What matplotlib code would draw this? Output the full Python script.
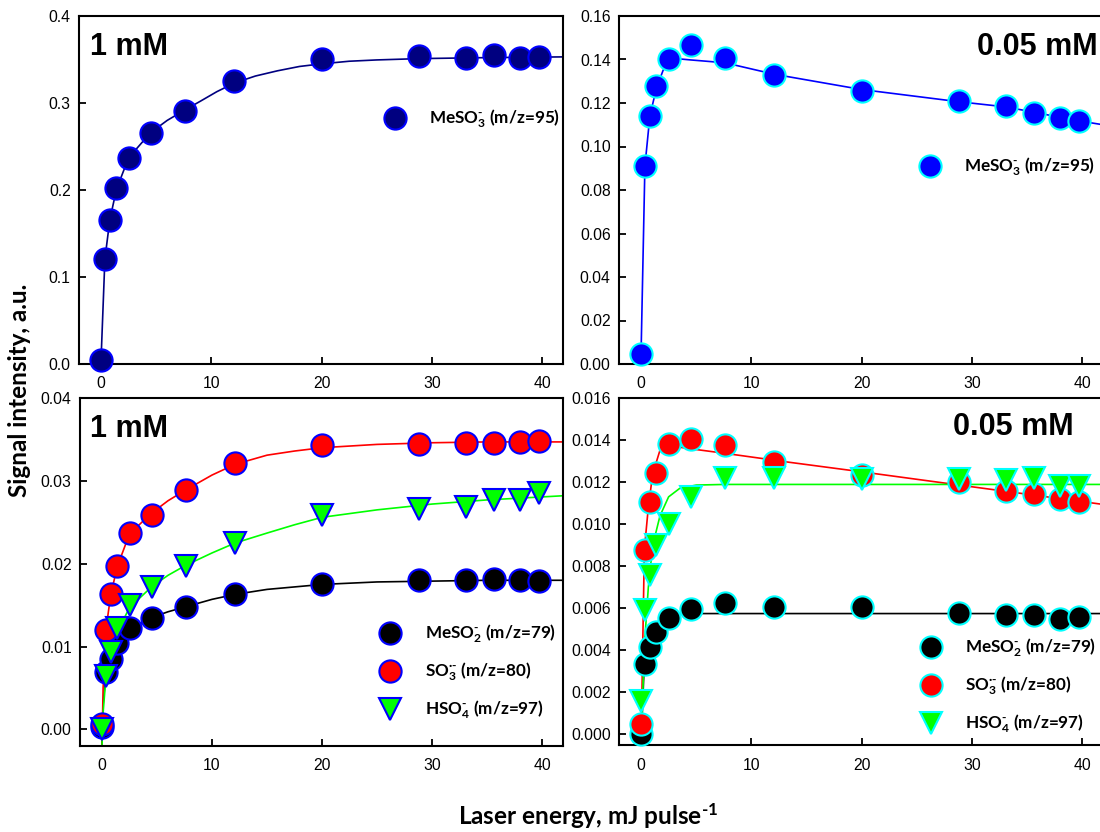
import numpy as np
import matplotlib.pyplot as plt

plt.rcParams['font.family'] = ['Liberation Sans', 'DejaVu Sans']
plt.rcParams['mathtext.default'] = 'regular'
plt.rcParams['mathtext.fontset'] = 'custom'
plt.rcParams['mathtext.rm'] = 'Lato:bold'
plt.rcParams['mathtext.bf'] = 'Lato:bold'
plt.rcParams['mathtext.it'] = 'Lato:bold:italic'

# energia del laser (mJ/pulso), comun a todas las series
energia = [0, 0.35, 0.8, 1.4, 2.5, 4.5, 7.6, 12.1, 20, 28.8, 33.1, 35.6, 38.0, 39.7]

# --- 1 mM ---
meso3_1mM = [0.005, 0.121, 0.166, 0.202, 0.237, 0.265, 0.291, 0.325, 0.351, 0.354, 0.352, 0.355, 0.352, 0.353]
meso2_1mM = [0.0003, 0.0069, 0.0085, 0.0104, 0.0122, 0.0135, 0.0148, 0.0163, 0.0175, 0.0180, 0.0180, 0.0182, 0.0180, 0.0179]
so3_1mM = [0.0007, 0.0120, 0.0163, 0.0197, 0.0237, 0.0259, 0.0289, 0.0321, 0.0343, 0.0345, 0.0346, 0.0346, 0.0347, 0.0348]
hso4_1mM = [0.0, 0.0064, 0.0093, 0.0122, 0.0150, 0.0172, 0.0197, 0.0225, 0.0259, 0.0266, 0.0268, 0.0277, 0.0277, 0.0285]

# --- 0.05 mM ---
meso3_005 = [0.0045, 0.091, 0.114, 0.128, 0.140, 0.1465, 0.1406, 0.1329, 0.1255, 0.1208, 0.1185, 0.1152, 0.1129, 0.1115]
meso2_005 = [0.00003, 0.00337, 0.00418, 0.00485, 0.00555, 0.00596, 0.00624, 0.00607, 0.00605, 0.00578, 0.0057, 0.0057, 0.0055, 0.00558]
so3_005 = [0.00048, 0.00877, 0.01107, 0.01244, 0.01381, 0.01407, 0.01376, 0.01298, 0.01232, 0.01199, 0.0116, 0.01144, 0.01122, 0.01106]
hso4_005 = [0.00158, 0.00594, 0.00756, 0.00902, 0.01002, 0.0113, 0.01218, 0.01218, 0.01217, 0.01217, 0.01209, 0.0122, 0.01183, 0.01183]

# curvas de ajuste
ajuste_tl_x = [0, 0.35, 0.8, 1.4, 2.5, 4.5, 6, 7.6, 9, 10.5, 12.1, 14, 16, 18, 20, 22.5, 25, 28.8, 34, 41.9]
ajuste_tl_y = [0.005, 0.121, 0.166, 0.201, 0.237, 0.266, 0.280, 0.292, 0.302, 0.313, 0.323, 0.331, 0.337, 0.342, 0.345, 0.348, 0.3495, 0.351, 0.352, 0.353]

ajuste_tr_x = [0, 0.35, 0.8, 1.4, 2.0, 2.5, 3.0, 4.5, 7.6, 12.1, 20, 28.8, 33.1, 39.7, 41.9]
ajuste_tr_y = [0.0045, 0.091, 0.114, 0.127, 0.135, 0.139, 0.1405, 0.1398, 0.1385, 0.1332, 0.1262, 0.1206, 0.1182, 0.1118, 0.1100]

ajuste_bl_x = [0, 0.1, 0.35, 0.8, 1.4, 2.5, 4.5, 6, 7.6, 10, 12.1, 15, 17.5, 20, 25, 30, 35, 41.9]
ajuste_bl_meso2 = [-0.002, 0.003, 0.0068, 0.0088, 0.0104, 0.0121, 0.0135, 0.0142, 0.0148, 0.0157, 0.0163, 0.0169, 0.0172, 0.0175, 0.0178, 0.0179, 0.0180, 0.0180]
ajuste_bl_so3 = [-0.002, 0.005, 0.0120, 0.0163, 0.0197, 0.0236, 0.0261, 0.0276, 0.0289, 0.0307, 0.0320, 0.0331, 0.0336, 0.0340, 0.0344, 0.0346, 0.0347, 0.0347]
ajuste_bl_hso4 = [-0.002, 0.002, 0.0062, 0.0092, 0.0118, 0.0147, 0.0172, 0.0186, 0.0198, 0.0213, 0.0225, 0.0237, 0.0247, 0.0256, 0.0265, 0.0272, 0.0277, 0.0282]

ajuste_br_x = [0, 0.3, 0.66, 1.06, 1.72, 2.5, 3.5, 5, 7.6, 13.5, 20, 30, 41.9]
ajuste_br_meso2 = [-0.0005, 0.0035, 0.0043, 0.0048, 0.0053, 0.0056, 0.00572, 0.00575, 0.00575, 0.00575, 0.00575, 0.00575, 0.00575]
ajuste_br_so3 = [-0.0005, 0.0088, 0.0108, 0.0124, 0.01352, 0.01376, 0.01366, 0.01355, 0.01337, 0.01294, 0.01249, 0.01178, 0.01094]
ajuste_br_hso4 = [-0.0005, 0.0042, 0.0070, 0.0090, 0.0104, 0.0113, 0.0117, 0.01186, 0.01189, 0.01189, 0.01189, 0.01189, 0.01189]

lbl_meso3 = r'MeSO$_3^{\text{-}}$ (m/z=95)'
lbl_meso2 = r'MeSO$_2^{\text{-}}$ (m/z=79)'
lbl_so3 = 'SO$_3^{\\text{\u00b7-}}$ (m/z=80)'
lbl_hso4 = r'HSO$_4^{\text{-}}$ (m/z=97)'

fig = plt.figure(figsize=(11, 8.32), dpi=100)
ax_tl = fig.add_axes([79/1100, 1-364/832, 484/1100, 348/832])
ax_tr = fig.add_axes([619/1100, 1-364/832, 484/1100, 348/832])
ax_bl = fig.add_axes([80/1100, 1-746/832, 483/1100, 348/832])
ax_br = fig.add_axes([619/1100, 1-745/832, 484/1100, 347/832])

fuente_leyenda = {'family': 'Lato', 'weight': 'bold', 'size': 12.3}
ms = 16

def serie(ax, x, y, fx, fy, linea, cara, borde, marca='o', etiqueta=None):
    ax.plot(fx, fy, color=linea, lw=1.2, zorder=2)
    ax.plot(x, y, ls='none', marker=marca, ms=ms, mfc=cara, mec=borde, mew=1.5,
            zorder=3, clip_on=False, label=etiqueta)

def formato(ax, ylim, yticks, fmt):
    ax.set_xlim(-2, 41.9)
    ax.set_ylim(*ylim)
    ax.set_xticks([0, 10, 20, 30, 40])
    ax.set_yticks(yticks)
    ax.set_yticklabels([fmt.format(v) for v in yticks])
    ax.tick_params(direction='in', length=5, width=1.3, labelsize=11.3)
    ax.tick_params(axis='x', pad=9)
    ax.tick_params(axis='y', pad=6)
    for s in ax.spines.values():
        s.set_linewidth(1.5)

def leyenda(ax, pos, espacio=0.9):
    ax.legend(loc='center left', bbox_to_anchor=pos, frameon=False, prop=fuente_leyenda,
              handlelength=1.0, handletextpad=1.5, borderpad=0, borderaxespad=0,
              labelspacing=espacio)

# arriba izquierda: 1 mM
serie(ax_tl, energia, meso3_1mM, ajuste_tl_x, ajuste_tl_y, '#000080', '#000080', '#0000ff', etiqueta=lbl_meso3)
formato(ax_tl, (0, 0.4), [0.0, 0.1, 0.2, 0.3, 0.4], '{:.1f}')
ax_tl.text(0.023, 0.91, '1 mM', transform=ax_tl.transAxes, fontsize=22, fontweight='bold', va='center')
leyenda(ax_tl, (0.635, 0.704))

# arriba derecha: 0.05 mM
serie(ax_tr, energia, meso3_005, ajuste_tr_x, ajuste_tr_y, '#0000ff', '#0000ff', '#00ffff', etiqueta=lbl_meso3)
formato(ax_tr, (0, 0.16), [0.00, 0.02, 0.04, 0.06, 0.08, 0.10, 0.12, 0.14, 0.16], '{:.2f}')
ax_tr.text(0.988, 0.91, '0.05 mM', transform=ax_tr.transAxes, fontsize=22, fontweight='bold', va='center', ha='right')
leyenda(ax_tr, (0.625, 0.566))

# abajo izquierda: 1 mM
serie(ax_bl, energia, meso2_1mM, ajuste_bl_x, ajuste_bl_meso2, 'black', 'black', '#0000ff', etiqueta=lbl_meso2)
serie(ax_bl, energia, so3_1mM, ajuste_bl_x, ajuste_bl_so3, 'red', 'red', '#0000ff', etiqueta=lbl_so3)
serie(ax_bl, energia, hso4_1mM, ajuste_bl_x, ajuste_bl_hso4, '#00ff00', '#00ff00', '#0000ff', marca='v', etiqueta=lbl_hso4)
formato(ax_bl, (-0.002, 0.04), [0.00, 0.01, 0.02, 0.03, 0.04], '{:.2f}')
ax_bl.text(0.021, 0.91, '1 mM', transform=ax_bl.transAxes, fontsize=22, fontweight='bold', va='center')
leyenda(ax_bl, (0.625, 0.213))

# abajo derecha: 0.05 mM
serie(ax_br, energia, meso2_005, ajuste_br_x, ajuste_br_meso2, 'black', 'black', '#00ffff', etiqueta=lbl_meso2)
serie(ax_br, energia, so3_005, ajuste_br_x, ajuste_br_so3, 'red', 'red', '#00ffff', etiqueta=lbl_so3)
serie(ax_br, energia, hso4_005, ajuste_br_x, ajuste_br_hso4, '#00ff00', '#00ff00', '#00ffff', marca='v', etiqueta=lbl_hso4)
formato(ax_br, (-0.0005, 0.016), [0.000, 0.002, 0.004, 0.006, 0.008, 0.010, 0.012, 0.014, 0.016], '{:.3f}')
ax_br.text(0.94, 0.915, '0.05 mM', transform=ax_br.transAxes, fontsize=22, fontweight='bold', va='center', ha='right')
leyenda(ax_br, (0.626, 0.17))

fig.text(20/1100, 1-390/832, 'Signal intensity, a.u.', rotation=90, ha='center', va='center',
         family='Lato', fontweight='bold', fontsize=17.5)
fig.text(588/1100, 1-816/832, r'Laser energy, mJ pulse$^{\text{-1}}$', ha='center', va='center',
         family='Lato', fontweight='bold', fontsize=17.5)

fig.savefig('out.png', dpi=100)
